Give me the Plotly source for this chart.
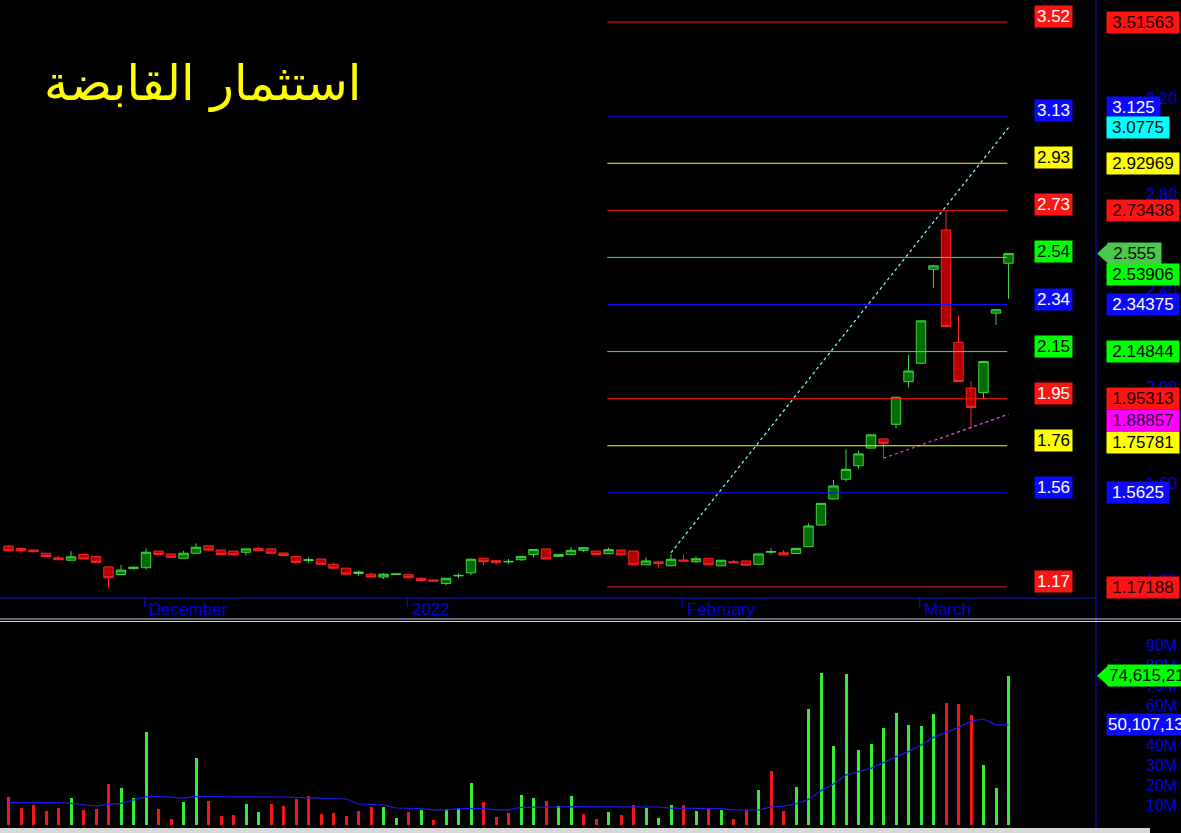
import plotly.graph_objects as go

W, H = 1181, 833

# ---------------- data ----------------
idx = list(range(81))
open_ = [1.342, 1.332, 1.325, 1.312, 1.293, 1.283, 1.307, 1.299, 1.255, 1.224,
         1.248, 1.252, 1.321, 1.309, 1.291, 1.312, 1.343, 1.325, 1.321, 1.316,
         1.332, 1.330, 1.313, 1.298, 1.282, 1.288, 1.266, 1.250, 1.228, 1.225,
         1.213, 1.224, 1.223, 1.208, 1.201, 1.186, 1.218, 1.231, 1.291, 1.281,
         1.276, 1.285, 1.307, 1.330, 1.299, 1.307, 1.324, 1.321, 1.310, 1.325,
         1.321, 1.264, 1.276, 1.260, 1.284, 1.277, 1.291, 1.260, 1.277, 1.280,
         1.266, 1.316, 1.314, 1.311, 1.339, 1.429, 1.537, 1.619, 1.675, 1.748,
         1.786, 1.847, 2.024, 2.100, 2.490, 2.653, 2.187, 1.997, 1.978, 2.308,
         2.515]
high = [1.346, 1.332, 1.327, 1.312, 1.302, 1.321, 1.307, 1.299, 1.255, 1.263,
        1.256, 1.332, 1.321, 1.309, 1.322, 1.353, 1.343, 1.325, 1.321, 1.330,
        1.339, 1.330, 1.313, 1.298, 1.295, 1.288, 1.273, 1.250, 1.240, 1.232,
        1.230, 1.226, 1.223, 1.212, 1.201, 1.208, 1.229, 1.290, 1.291, 1.284,
        1.288, 1.299, 1.327, 1.330, 1.307, 1.337, 1.335, 1.321, 1.335, 1.325,
        1.321, 1.295, 1.280, 1.309, 1.307, 1.298, 1.291, 1.283, 1.284, 1.280,
        1.309, 1.332, 1.325, 1.332, 1.436, 1.519, 1.616, 1.743, 1.738, 1.806,
        1.786, 1.959, 2.134, 2.276, 2.504, 2.736, 2.298, 2.027, 2.107, 2.322,
        2.555]
low = [1.322, 1.312, 1.316, 1.298, 1.283, 1.283, 1.288, 1.274, 1.172, 1.224,
       1.244, 1.244, 1.307, 1.295, 1.291, 1.312, 1.320, 1.307, 1.305, 1.302,
       1.322, 1.312, 1.303, 1.266, 1.273, 1.266, 1.250, 1.225, 1.219, 1.213,
       1.205, 1.224, 1.210, 1.194, 1.196, 1.180, 1.208, 1.222, 1.262, 1.266,
       1.266, 1.280, 1.293, 1.288, 1.299, 1.307, 1.318, 1.307, 1.310, 1.298,
       1.264, 1.264, 1.254, 1.260, 1.280, 1.273, 1.264, 1.260, 1.270, 1.262,
       1.266, 1.309, 1.305, 1.311, 1.339, 1.429, 1.537, 1.609, 1.664, 1.748,
       1.706, 1.830, 1.999, 2.100, 2.411, 2.252, 2.024, 1.830, 1.951, 2.259,
       2.367]
close = [1.322, 1.322, 1.318, 1.298, 1.285, 1.297, 1.288, 1.274, 1.210, 1.242,
         1.254, 1.316, 1.307, 1.295, 1.312, 1.337, 1.325, 1.307, 1.305, 1.330,
         1.322, 1.312, 1.303, 1.274, 1.285, 1.266, 1.250, 1.225, 1.234, 1.213,
         1.225, 1.226, 1.210, 1.198, 1.196, 1.208, 1.220, 1.287, 1.277, 1.273,
         1.278, 1.299, 1.327, 1.288, 1.307, 1.324, 1.335, 1.307, 1.327, 1.305,
         1.264, 1.280, 1.269, 1.287, 1.280, 1.289, 1.264, 1.283, 1.272, 1.262,
         1.309, 1.319, 1.305, 1.332, 1.425, 1.519, 1.591, 1.660, 1.724, 1.803,
         1.768, 1.959, 2.068, 2.276, 2.504, 2.252, 2.024, 1.917, 2.107, 2.322,
         2.555]

volume_m = [14.2, 8.7, 10.0, 7.2, 8.7, 13.5, 7.5, 8.2, 20.5, 18.5,
            13.5, 46.5, 8.2, 2.8, 11.5, 33.3, 11.8, 4.5, 5.0, 10.5,
            6.5, 10.5, 9.5, 13.2, 14.5, 5.5, 5.8, 4.5, 7.2, 9.2,
            8.8, 3.5, 6.7, 7.5, 2.5, 7.8, 8.5, 20.8, 11.5, 4.2,
            5.8, 15.0, 13.5, 12.0, 9.5, 14.5, 5.5, 3.2, 6.5, 5.2,
            10.0, 8.7, 3.5, 10.0, 10.0, 7.2, 8.2, 7.5, 2.8, 7.5,
            17.5, 27.0, 7.2, 19.0, 58.0, 76.2, 39.5, 75.5, 37.5, 40.5,
            48.5, 56.0, 50.0, 49.5, 55.5, 61.0, 60.5, 55.0, 30.0, 18.5,
            74.6]
vol_dir = list("rrrrrgrrrggg" "rrggrrrggrrrrrrrrrgg"
               "rgrgggrrrggrggrrgrrggg" "rgrgrrgrrg" "ggggggggggg" "rrr" "ggg")
vol_ma_m = [11.2, 11.2, 11.2, 11.2, 11.2, 10.8, 10.2, 9.5, 10.3, 10.8,
            12.5, 14.2, 14.2, 14.0, 13.4, 14.2, 14.2, 14.2, 14.0, 14.0,
            14.0, 14.0, 14.0, 13.8, 13.6, 13.5, 13.2, 13.0, 10.5, 10.2,
            10.0, 8.5, 8.3, 8.2, 7.6, 7.6, 8.2, 8.3, 8.3, 7.6,
            7.6, 8.8, 8.8, 8.9, 9.0, 9.2, 9.2, 9.2, 9.2, 9.2,
            9.2, 9.2, 9.0, 8.4, 8.3, 8.3, 8.3, 8.2, 7.6, 7.5,
            7.5, 9.0, 9.4, 10.5, 12.8, 17.2, 20.5, 25.0, 26.7, 28.3,
            31.2, 34.2, 36.7, 40.0, 43.8, 46.2, 48.8, 52.0, 53.0, 50.1,
            50.1]

month_labels = ["December", "2022", "February", "March"]
month_idx = [11, 32, 54, 73]

fib_levels = [3.51563, 3.125, 2.92969, 2.73438, 2.53906, 2.34375,
              2.14844, 1.95313, 1.75781, 1.5625, 1.17188]
fib_short = ["3.52", "3.13", "2.93", "2.73", "2.54", "2.34",
             "2.15", "1.95", "1.76", "1.56", "1.17"]
fib_full = ["3.51563", "3.125", "2.92969", "2.73438", "2.53906", "2.34375",
            "2.14844", "1.95313", "1.75781", "1.5625", "1.17188"]
fib_kind = ["red", "blue", "yellow", "red", "green", "blue",
            "green", "red", "yellow", "blue", "red"]
fib_start, fib_end = 48, 80

price_ticks = [3.20, 2.80, 2.40, 2.00, 1.60, 1.20]
vol_ticks_m = [90, 80, 70, 60, 50, 40, 30, 20, 10]

cyan_x, cyan_y = [53, 80], [1.314, 3.0775]
mag_x, mag_y = [70, 80], [1.706, 1.88857]

last_price = 2.555
last_volume = "74,615,215"
last_vol_ma = "50,107,130"
title = "استثمار القابضة"

# ---------------- styling ----------------
LINE_COL = {"red": "#ff1010", "blue": "#1010ff", "yellow": "#ffff00", "green": "#20ff20"}
BOX_COL = {"red": "#ff1414", "blue": "#0a0aff", "yellow": "#ffff00", "green": "#00ff00"}
SHORT_TXT = {"red": "white", "blue": "white", "yellow": "black", "green": "black"}
FULL_TXT = {"red": "#1a0000", "blue": "white", "yellow": "black", "green": "black"}
FONT = "Arial, Liberation Sans, sans-serif"
AXIS_BLUE = "#0000dd"


def px_x(px):
    return px / W


def px_y(py):
    return 1 - py / H


# price pixel calibration (1.17188 at 587px, 3.51563 at 22px)
k = (587 - 22) / (3.51563 - 1.17188)
y_lo = 1.17188 - (598 - 587) / k
y_hi = 3.51563 + 22 / k
x_lo = -8.5 / 12.5
x_hi = (1096 - 8.5) / 12.5

fig = go.Figure()

fig.add_trace(go.Candlestick(
    x=idx, open=open_, high=high, low=low, close=close,
    increasing=dict(line=dict(color="#3fd83f", width=1), fillcolor="#006e00"),
    decreasing=dict(line=dict(color="#ff2424", width=1), fillcolor="#b40000"),
    whiskerwidth=0, xaxis="x", yaxis="y", showlegend=False, hoverinfo="skip"))

fig.add_trace(go.Scatter(x=cyan_x, y=cyan_y, mode="lines",
                         line=dict(color="#8fffff", width=1.2, dash="dot"),
                         xaxis="x", yaxis="y", showlegend=False, hoverinfo="skip"))
fig.add_trace(go.Scatter(x=mag_x, y=mag_y, mode="lines",
                         line=dict(color="#ff40ff", width=1.2, dash="dot"),
                         xaxis="x", yaxis="y", showlegend=False, hoverinfo="skip"))

vcolors = ["#33ee33" if d == "g" else "#f01818" for d in vol_dir]
fig.add_trace(go.Bar(x=idx, y=[v * 1e6 for v in volume_m], marker_color=vcolors,
                     marker_line_width=0, width=0.24, xaxis="x2", yaxis="y2",
                     showlegend=False, hoverinfo="skip"))
fig.add_trace(go.Scatter(x=idx, y=[v * 1e6 for v in vol_ma_m], mode="lines",
                         line=dict(color="#1a1aee", width=1.2),
                         xaxis="x2", yaxis="y2", showlegend=False, hoverinfo="skip"))

shapes = []
# fib lines
for lv, kind in zip(fib_levels, fib_kind):
    shapes.append(dict(type="line", xref="x", yref="y", x0=fib_start - 0.1, x1=fib_end - 0.1,
                       y0=lv, y1=lv, line=dict(color=LINE_COL[kind], width=1)))
# pane borders
shapes.append(dict(type="line", xref="paper", yref="paper", x0=0, x1=px_x(1096),
                   y0=px_y(598), y1=px_y(598), line=dict(color="#1010dd", width=1)))
shapes.append(dict(type="line", xref="paper", yref="paper", x0=px_x(1096), x1=px_x(1096),
                   y0=0, y1=1, line=dict(color="#1010dd", width=1)))
for py in (619, 621.5):
    shapes.append(dict(type="line", xref="paper", yref="paper", x0=0, x1=1,
                       y0=px_y(py), y1=px_y(py), line=dict(color="#d0d0ff", width=1)))
shapes.append(dict(type="rect", xref="paper", yref="paper", x0=0, x1=px_x(1150),
                   y0=0, y1=px_y(828), line=dict(width=0), fillcolor="#d8d8d8"))
# month tick marks
for mi in month_idx:
    shapes.append(dict(type="line", xref="x", yref="paper", x0=mi - 0.1, x1=mi - 0.1,
                       y0=px_y(598), y1=px_y(607), line=dict(color="#1010dd", width=1)))
# arrow heads for last value labels
shapes.append(dict(type="path", xref="paper", yref="y", xsizemode="pixel", ysizemode="pixel",
                   xanchor=px_x(1097), yanchor=last_price,
                   path="M 0 0 L 11 10 L 11 -10 Z", fillcolor="#4cc84c", line=dict(width=0)))
shapes.append(dict(type="path", xref="paper", yref="y2", xsizemode="pixel", ysizemode="pixel",
                   xanchor=px_x(1097), yanchor=volume_m[-1] * 1e6,
                   path="M 0 0 L 11 10 L 11 -10 Z", fillcolor="#00ff00", line=dict(width=0)))

ann = []
# title
ann.append(dict(text=title, xref="paper", yref="paper", x=px_x(202), y=px_y(83),
                xanchor="center", yanchor="middle", showarrow=False,
                font=dict(family="DejaVu Sans", size=49, color="#ffff00")))
# month labels
for lab, mi in zip(month_labels, month_idx):
    ann.append(dict(text=lab, xref="x", yref="paper", x=mi + 0.1, y=px_y(609),
                    xanchor="left", yanchor="middle", showarrow=False,
                    font=dict(family=FONT, size=17, color=AXIS_BLUE)))
# price axis tick labels
for t in price_ticks:
    ann.append(dict(text=f"{t:.2f}", xref="paper", yref="y", x=px_x(1179), y=t,
                    xanchor="right", yanchor="middle", showarrow=False,
                    font=dict(family=FONT, size=16, color=AXIS_BLUE)))
# volume axis tick labels
for t in vol_ticks_m:
    ann.append(dict(text=f"{t}M", xref="paper", yref="y2", x=px_x(1179), y=t * 1e6,
                    xanchor="right", yanchor="middle", showarrow=False,
                    font=dict(family=FONT, size=16, color=AXIS_BLUE)))
# short fib labels
for lv, s, kind in zip(fib_levels, fib_short, fib_kind):
    ann.append(dict(text=s, xref="paper", yref="y", x=px_x(1053), y=lv, yshift=5.5,
                    xanchor="center", yanchor="middle", showarrow=False,
                    bgcolor=BOX_COL[kind], borderpad=1, width=35,
                    font=dict(family=FONT, size=17, color=SHORT_TXT[kind])))

# full value labels on the right
shift = {"3.125": 9, "2.53906": -17, "1.88857": -6, "1.75781": 3}


def right_box(text, yv, bg, fg, yref="y", x0=1106, width=None, align="center"):
    return dict(text=text, xref="paper", yref=yref, x=px_x(x0), y=yv,
                yshift=shift.get(text, 0), xanchor="left", yanchor="middle",
                showarrow=False, bgcolor=bg, borderpad=1,
                width=width if width else round(9.4 * len(text) + 4), align=align,
                font=dict(family=FONT, size=17, color=fg))


for lv, s, kind in zip(fib_levels, fib_full, fib_kind):
    ann.append(right_box(s, lv, BOX_COL[kind], FULL_TXT[kind]))
ann.append(right_box(f"{cyan_y[-1]:g}", cyan_y[-1], "#00ffff", "#001010"))
ann.append(right_box(f"{mag_y[-1]:g}", mag_y[-1], "#ff00ff", "#300030"))
ann.append(right_box(f"{last_price:g}", last_price, "#4cc84c", "#001000", x0=1107))
ann.append(right_box(last_volume, volume_m[-1] * 1e6, "#00ff00", "#001000", yref="y2",
                     x0=1107, width=92, align="left"))
ann.append(right_box(last_vol_ma, vol_ma_m[-1] * 1e6, "#0a0aff", "white", yref="y2",
                     width=92, align="left"))

axis_hidden = dict(showgrid=False, zeroline=False, showticklabels=False, ticks="",
                   showline=False, fixedrange=True)

fig.update_layout(
    width=W, height=H,
    margin=dict(l=0, r=0, t=0, b=0, pad=0),
    paper_bgcolor="black", plot_bgcolor="black",
    showlegend=False, bargap=0, boxgap=0.0, boxgroupgap=0.25,
    xaxis=dict(domain=[0, px_x(1096)], range=[x_lo, x_hi], anchor="y",
               rangeslider=dict(visible=False), **axis_hidden),
    xaxis2=dict(domain=[0, px_x(1096)], range=[x_lo, x_hi], anchor="y2",
                matches="x", **axis_hidden),
    yaxis=dict(domain=[px_y(598), 1], range=[y_lo, y_hi], anchor="x", **axis_hidden),
    yaxis2=dict(domain=[px_y(825), px_y(622)], range=[0, (825 - 622) / 2 * 1e6],
                anchor="x2", **axis_hidden),
    shapes=shapes,
    annotations=ann,
)

fig.write_html("out.html", include_plotlyjs=True, full_html=True,
               config={"displayModeBar": False},
               post_script="document.body.style.margin='0';document.body.style.background='black';document.body.style.overflow='hidden';")
